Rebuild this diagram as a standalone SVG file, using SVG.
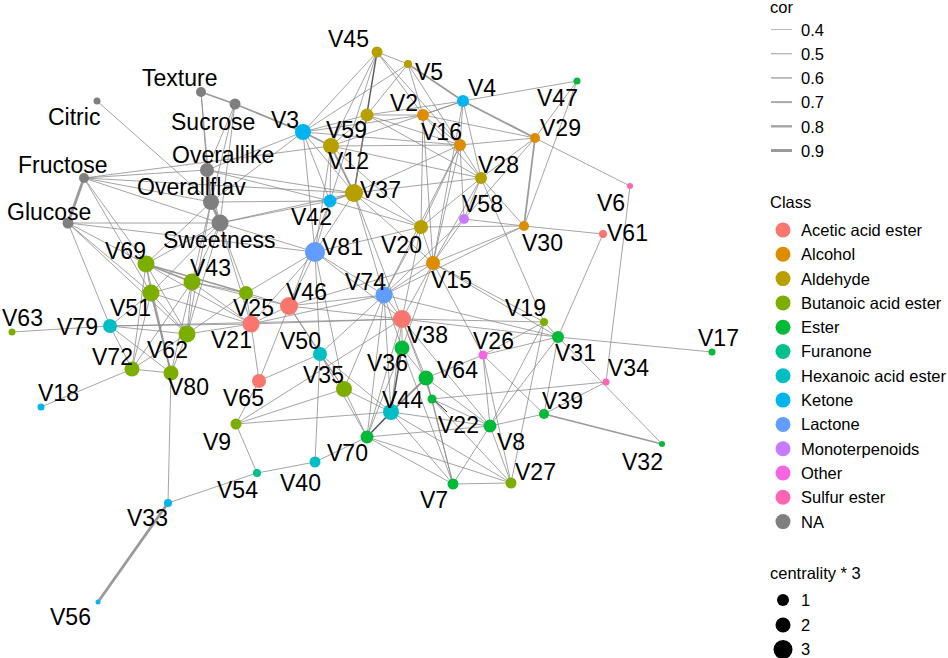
<svg xmlns="http://www.w3.org/2000/svg" width="948" height="658" viewBox="0 0 948 658">
<style>
text{font-family:"Liberation Sans",Arial,sans-serif;fill:#000}
.lb{font-size:23px}
.lg{font-size:16.5px}
#edges line{stroke:#888;stroke-width:0.9;stroke-opacity:0.85}
#edges line.m{stroke-width:1.8}
#edges line.k{stroke-width:2.8}
#edges line.d{stroke:#404040;stroke-width:1.5}
.ac{fill:#F8766D}.al{fill:#DE8C00}.ad{fill:#B79F00}.bu{fill:#7CAE00}.es{fill:#00BA38}.fu{fill:#00C08B}.hx{fill:#00BFC4}.ke{fill:#00B4F0}.la{fill:#619CFF}.mo{fill:#C77CFF}.ot{fill:#F564E3}.su{fill:#FF64B0}.na{fill:#7F7F7F}
</style>
<rect width="948" height="658" fill="#fff"/>
<g id="edges">
<line x1="201" y1="92" x2="235" y2="104" class="m"/>
<line x1="201" y1="92" x2="207" y2="170"/>
<line x1="201" y1="92" x2="211" y2="202"/>
<line x1="235" y1="104" x2="303" y2="132" class="m"/>
<line x1="235" y1="104" x2="207" y2="170"/>
<line x1="235" y1="104" x2="211" y2="202"/>
<line x1="235" y1="104" x2="220" y2="223"/>
<line x1="97" y1="101" x2="211" y2="202"/>
<line x1="84" y1="178" x2="68" y2="223" class="k"/>
<line x1="84" y1="178" x2="207" y2="170"/>
<line x1="84" y1="178" x2="211" y2="202"/>
<line x1="84" y1="178" x2="220" y2="223"/>
<line x1="84" y1="178" x2="146" y2="264"/>
<line x1="84" y1="178" x2="151" y2="293"/>
<line x1="84" y1="178" x2="331" y2="146"/>
<line x1="84" y1="178" x2="354" y2="193"/>
<line x1="68" y1="223" x2="220" y2="223"/>
<line x1="68" y1="223" x2="315" y2="252"/>
<line x1="68" y1="223" x2="110" y2="326"/>
<line x1="68" y1="223" x2="151" y2="293"/>
<line x1="68" y1="223" x2="187" y2="334"/>
<line x1="68" y1="223" x2="146" y2="264"/>
<line x1="207" y1="170" x2="211" y2="202" class="m"/>
<line x1="211" y1="202" x2="220" y2="223" class="k"/>
<line x1="207" y1="170" x2="220" y2="223"/>
<line x1="207" y1="170" x2="303" y2="132"/>
<line x1="207" y1="170" x2="330" y2="201"/>
<line x1="207" y1="170" x2="354" y2="193"/>
<line x1="211" y1="202" x2="303" y2="132"/>
<line x1="211" y1="202" x2="330" y2="201"/>
<line x1="211" y1="202" x2="146" y2="264"/>
<line x1="211" y1="202" x2="192" y2="282"/>
<line x1="211" y1="202" x2="187" y2="334"/>
<line x1="220" y1="223" x2="315" y2="252"/>
<line x1="220" y1="223" x2="330" y2="201"/>
<line x1="220" y1="223" x2="146" y2="264"/>
<line x1="220" y1="223" x2="192" y2="282"/>
<line x1="220" y1="223" x2="246" y2="293"/>
<line x1="220" y1="223" x2="354" y2="193"/>
<line x1="220" y1="223" x2="187" y2="334"/>
<line x1="220" y1="223" x2="151" y2="293"/>
<line x1="220" y1="223" x2="251" y2="324"/>
<line x1="377" y1="52" x2="354" y2="193" class="d"/>
<line x1="377" y1="52" x2="408" y2="64"/>
<line x1="377" y1="52" x2="303" y2="132"/>
<line x1="377" y1="52" x2="330" y2="201"/>
<line x1="377" y1="52" x2="423" y2="115"/>
<line x1="377" y1="52" x2="460" y2="145"/>
<line x1="377" y1="52" x2="331" y2="146"/>
<line x1="408" y1="64" x2="463" y2="101" class="m"/>
<line x1="408" y1="64" x2="367" y2="115"/>
<line x1="408" y1="64" x2="303" y2="132"/>
<line x1="408" y1="64" x2="460" y2="145"/>
<line x1="408" y1="64" x2="423" y2="115"/>
<line x1="463" y1="101" x2="577" y2="81"/>
<line x1="463" y1="101" x2="535" y2="138" class="m"/>
<line x1="463" y1="101" x2="423" y2="115"/>
<line x1="463" y1="101" x2="367" y2="115"/>
<line x1="463" y1="101" x2="460" y2="145"/>
<line x1="463" y1="101" x2="481" y2="178"/>
<line x1="463" y1="101" x2="433" y2="263"/>
<line x1="463" y1="101" x2="331" y2="146"/>
<line x1="577" y1="81" x2="535" y2="138"/>
<line x1="577" y1="81" x2="524" y2="226"/>
<line x1="303" y1="132" x2="367" y2="115"/>
<line x1="303" y1="132" x2="331" y2="146" class="m"/>
<line x1="303" y1="132" x2="423" y2="115"/>
<line x1="303" y1="132" x2="330" y2="201"/>
<line x1="303" y1="132" x2="354" y2="193"/>
<line x1="303" y1="132" x2="315" y2="252"/>
<line x1="303" y1="132" x2="460" y2="145"/>
<line x1="367" y1="115" x2="423" y2="115"/>
<line x1="367" y1="115" x2="460" y2="145"/>
<line x1="367" y1="115" x2="354" y2="193"/>
<line x1="367" y1="115" x2="331" y2="146"/>
<line x1="367" y1="115" x2="481" y2="178"/>
<line x1="331" y1="146" x2="354" y2="193" class="m"/>
<line x1="331" y1="146" x2="460" y2="145"/>
<line x1="331" y1="146" x2="481" y2="178"/>
<line x1="331" y1="146" x2="330" y2="201"/>
<line x1="331" y1="146" x2="421" y2="227"/>
<line x1="331" y1="146" x2="315" y2="252"/>
<line x1="354" y1="193" x2="421" y2="227"/>
<line x1="354" y1="193" x2="433" y2="263"/>
<line x1="354" y1="193" x2="384" y2="295"/>
<line x1="354" y1="193" x2="402" y2="319"/>
<line x1="354" y1="193" x2="330" y2="201" class="m"/>
<line x1="354" y1="193" x2="315" y2="252"/>
<line x1="354" y1="193" x2="481" y2="178"/>
<line x1="354" y1="193" x2="460" y2="145"/>
<line x1="423" y1="115" x2="460" y2="145"/>
<line x1="423" y1="115" x2="481" y2="178"/>
<line x1="423" y1="115" x2="535" y2="138"/>
<line x1="423" y1="115" x2="421" y2="227"/>
<line x1="423" y1="115" x2="433" y2="263"/>
<line x1="460" y1="145" x2="481" y2="178"/>
<line x1="460" y1="145" x2="421" y2="227"/>
<line x1="460" y1="145" x2="433" y2="263"/>
<line x1="460" y1="145" x2="384" y2="295"/>
<line x1="460" y1="145" x2="464" y2="219"/>
<line x1="460" y1="145" x2="535" y2="138"/>
<line x1="481" y1="178" x2="524" y2="226"/>
<line x1="481" y1="178" x2="535" y2="138"/>
<line x1="481" y1="178" x2="464" y2="219"/>
<line x1="481" y1="178" x2="421" y2="227"/>
<line x1="481" y1="178" x2="433" y2="263"/>
<line x1="481" y1="178" x2="544" y2="322"/>
<line x1="535" y1="138" x2="524" y2="226" class="m"/>
<line x1="535" y1="138" x2="630" y2="186"/>
<line x1="535" y1="138" x2="464" y2="219"/>
<line x1="524" y1="226" x2="603" y2="234"/>
<line x1="524" y1="226" x2="433" y2="263"/>
<line x1="524" y1="226" x2="464" y2="219"/>
<line x1="524" y1="226" x2="421" y2="227"/>
<line x1="524" y1="226" x2="384" y2="295"/>
<line x1="464" y1="219" x2="433" y2="263"/>
<line x1="464" y1="219" x2="384" y2="295"/>
<line x1="421" y1="227" x2="433" y2="263"/>
<line x1="421" y1="227" x2="384" y2="295"/>
<line x1="421" y1="227" x2="402" y2="319"/>
<line x1="421" y1="227" x2="315" y2="252"/>
<line x1="421" y1="227" x2="330" y2="201"/>
<line x1="433" y1="263" x2="384" y2="295"/>
<line x1="433" y1="263" x2="402" y2="319"/>
<line x1="433" y1="263" x2="402" y2="348"/>
<line x1="433" y1="263" x2="483" y2="355"/>
<line x1="433" y1="263" x2="289" y2="306"/>
<line x1="433" y1="263" x2="544" y2="322"/>
<line x1="433" y1="263" x2="558" y2="337"/>
<line x1="330" y1="201" x2="315" y2="252"/>
<line x1="330" y1="201" x2="289" y2="306"/>
<line x1="315" y1="252" x2="289" y2="306"/>
<line x1="315" y1="252" x2="246" y2="293"/>
<line x1="315" y1="252" x2="251" y2="324"/>
<line x1="315" y1="252" x2="384" y2="295"/>
<line x1="315" y1="252" x2="402" y2="319"/>
<line x1="315" y1="252" x2="320" y2="354"/>
<line x1="315" y1="252" x2="344" y2="389"/>
<line x1="384" y1="295" x2="402" y2="319"/>
<line x1="384" y1="295" x2="402" y2="348"/>
<line x1="384" y1="295" x2="289" y2="306"/>
<line x1="384" y1="295" x2="391" y2="412"/>
<line x1="384" y1="295" x2="367" y2="437"/>
<line x1="384" y1="295" x2="320" y2="354"/>
<line x1="384" y1="295" x2="344" y2="389"/>
<line x1="384" y1="295" x2="251" y2="324"/>
<line x1="384" y1="295" x2="558" y2="337"/>
<line x1="402" y1="319" x2="402" y2="348"/>
<line x1="402" y1="319" x2="426" y2="378"/>
<line x1="402" y1="319" x2="391" y2="412"/>
<line x1="402" y1="319" x2="432" y2="399"/>
<line x1="402" y1="319" x2="490" y2="426"/>
<line x1="402" y1="319" x2="289" y2="306"/>
<line x1="402" y1="319" x2="251" y2="324"/>
<line x1="402" y1="319" x2="558" y2="337"/>
<line x1="402" y1="319" x2="544" y2="322"/>
<line x1="402" y1="319" x2="367" y2="437"/>
<line x1="402" y1="319" x2="236" y2="424"/>
<line x1="402" y1="348" x2="391" y2="412" class="d"/>
<line x1="402" y1="348" x2="426" y2="378"/>
<line x1="402" y1="348" x2="367" y2="437"/>
<line x1="402" y1="348" x2="453" y2="484"/>
<line x1="426" y1="378" x2="391" y2="412" class="m"/>
<line x1="426" y1="378" x2="432" y2="399"/>
<line x1="426" y1="378" x2="490" y2="426"/>
<line x1="426" y1="378" x2="483" y2="355"/>
<line x1="426" y1="378" x2="367" y2="437"/>
<line x1="426" y1="378" x2="453" y2="484"/>
<line x1="432" y1="399" x2="453" y2="484"/>
<line x1="432" y1="399" x2="490" y2="426"/>
<line x1="432" y1="399" x2="511" y2="483"/>
<line x1="432" y1="399" x2="606" y2="382"/>
<line x1="490" y1="426" x2="453" y2="484"/>
<line x1="490" y1="426" x2="511" y2="483"/>
<line x1="490" y1="426" x2="367" y2="437"/>
<line x1="490" y1="426" x2="544" y2="322"/>
<line x1="490" y1="426" x2="391" y2="412"/>
<line x1="490" y1="426" x2="558" y2="337"/>
<line x1="453" y1="484" x2="511" y2="483"/>
<line x1="453" y1="484" x2="367" y2="437"/>
<line x1="453" y1="484" x2="391" y2="412"/>
<line x1="511" y1="483" x2="367" y2="437"/>
<line x1="511" y1="483" x2="391" y2="412"/>
<line x1="511" y1="483" x2="483" y2="355"/>
<line x1="511" y1="483" x2="544" y2="322"/>
<line x1="367" y1="437" x2="391" y2="412" class="d"/>
<line x1="367" y1="437" x2="315" y2="462"/>
<line x1="367" y1="437" x2="320" y2="354"/>
<line x1="367" y1="437" x2="344" y2="389"/>
<line x1="391" y1="412" x2="344" y2="389"/>
<line x1="391" y1="412" x2="320" y2="354"/>
<line x1="391" y1="412" x2="236" y2="424"/>
<line x1="315" y1="462" x2="257" y2="473"/>
<line x1="315" y1="462" x2="320" y2="354"/>
<line x1="257" y1="473" x2="168" y2="503"/>
<line x1="257" y1="473" x2="236" y2="424"/>
<line x1="168" y1="503" x2="98" y2="602" class="k"/>
<line x1="168" y1="503" x2="171" y2="373"/>
<line x1="236" y1="424" x2="259" y2="381"/>
<line x1="236" y1="424" x2="344" y2="389"/>
<line x1="259" y1="381" x2="251" y2="324"/>
<line x1="259" y1="381" x2="289" y2="306"/>
<line x1="259" y1="381" x2="320" y2="354"/>
<line x1="344" y1="389" x2="320" y2="354"/>
<line x1="344" y1="389" x2="289" y2="306"/>
<line x1="320" y1="354" x2="289" y2="306"/>
<line x1="289" y1="306" x2="251" y2="324"/>
<line x1="289" y1="306" x2="246" y2="293"/>
<line x1="289" y1="306" x2="192" y2="282"/>
<line x1="251" y1="324" x2="246" y2="293"/>
<line x1="251" y1="324" x2="187" y2="334"/>
<line x1="251" y1="324" x2="192" y2="282"/>
<line x1="251" y1="324" x2="146" y2="264"/>
<line x1="251" y1="324" x2="151" y2="293"/>
<line x1="246" y1="293" x2="192" y2="282"/>
<line x1="246" y1="293" x2="146" y2="264" class="m"/>
<line x1="246" y1="293" x2="187" y2="334"/>
<line x1="146" y1="264" x2="151" y2="293"/>
<line x1="146" y1="264" x2="192" y2="282" class="m"/>
<line x1="146" y1="264" x2="187" y2="334"/>
<line x1="146" y1="264" x2="171" y2="373"/>
<line x1="146" y1="264" x2="132" y2="369"/>
<line x1="151" y1="293" x2="192" y2="282"/>
<line x1="151" y1="293" x2="187" y2="334"/>
<line x1="151" y1="293" x2="171" y2="373" class="m"/>
<line x1="151" y1="293" x2="132" y2="369"/>
<line x1="151" y1="293" x2="110" y2="326"/>
<line x1="192" y1="282" x2="187" y2="334"/>
<line x1="192" y1="282" x2="171" y2="373"/>
<line x1="192" y1="282" x2="132" y2="369"/>
<line x1="187" y1="334" x2="171" y2="373"/>
<line x1="187" y1="334" x2="132" y2="369"/>
<line x1="187" y1="334" x2="110" y2="326"/>
<line x1="132" y1="369" x2="41" y2="407"/>
<line x1="132" y1="369" x2="171" y2="373"/>
<line x1="132" y1="369" x2="110" y2="326"/>
<line x1="110" y1="326" x2="12" y2="332"/>
<line x1="110" y1="326" x2="171" y2="373"/>
<line x1="110" y1="326" x2="251" y2="324"/>
<line x1="110" y1="326" x2="402" y2="319"/>
<line x1="544" y1="322" x2="558" y2="337"/>
<line x1="544" y1="322" x2="483" y2="355"/>
<line x1="558" y1="337" x2="712" y2="352"/>
<line x1="558" y1="337" x2="662" y2="444"/>
<line x1="558" y1="337" x2="603" y2="234"/>
<line x1="558" y1="337" x2="544" y2="414"/>
<line x1="558" y1="337" x2="483" y2="355"/>
<line x1="483" y1="355" x2="490" y2="426"/>
<line x1="483" y1="355" x2="544" y2="414"/>
<line x1="544" y1="414" x2="606" y2="382"/>
<line x1="544" y1="414" x2="662" y2="444" class="m"/>
<line x1="544" y1="414" x2="490" y2="426"/>
<line x1="606" y1="382" x2="630" y2="186"/>
<line x1="433" y1="399" x2="447" y2="412" style="stroke:#000;stroke-width:0.9;stroke-opacity:1"/>
</g>
<g id="nodes">
<g id="n-Texture"><circle cx="201" cy="92" r="5" class="na"/><text class="lb" x="142" y="86">Texture</text></g>
<g id="n-Citric"><circle cx="97" cy="101" r="3.5" class="na"/><text class="lb" x="48" y="125">Citric</text></g>
<g id="n-Sucrose"><circle cx="235" cy="104" r="5.5" class="na"/><text class="lb" x="171" y="130">Sucrose</text></g>
<g id="n-Overallike"><circle cx="207" cy="170" r="7" class="na"/><text class="lb" x="172" y="163">Overallike</text></g>
<g id="n-Fructose"><circle cx="84" cy="178" r="5" class="na"/><text class="lb" x="18" y="173">Fructose</text></g>
<g id="n-Overallflav"><circle cx="211" cy="202" r="8" class="na"/><text class="lb" x="137" y="195">Overallflav</text></g>
<g id="n-Glucose"><circle cx="68" cy="223" r="5.5" class="na"/><text class="lb" x="7" y="220">Glucose</text></g>
<g id="n-Sweetness"><circle cx="220" cy="223" r="8.5" class="na"/><text class="lb" x="163" y="248">Sweetness</text></g>
<g id="n-V45"><circle cx="377" cy="52" r="5.5" class="ad"/><text class="lb" x="328" y="47">V45</text></g>
<g id="n-V5"><circle cx="408" cy="64" r="4" class="ad"/><text class="lb" x="415" y="80">V5</text></g>
<g id="n-V4"><circle cx="463" cy="101" r="6" class="ke"/><text class="lb" x="468" y="96">V4</text></g>
<g id="n-V47"><circle cx="577" cy="81" r="3.5" class="es"/><text class="lb" x="537" y="106">V47</text></g>
<g id="n-V2"><circle cx="423" cy="115" r="6" class="al"/><text class="lb" x="390" y="111">V2</text></g>
<g id="n-V3"><circle cx="303" cy="132" r="8" class="ke"/><text class="lb" x="271" y="128">V3</text></g>
<g id="n-V59"><circle cx="367" cy="115" r="6.5" class="ad"/><text class="lb" x="326" y="138">V59</text></g>
<g id="n-V12"><circle cx="331" cy="146" r="8" class="ad"/><text class="lb" x="328" y="169">V12</text></g>
<g id="n-V16"><circle cx="460" cy="145" r="6" class="al"/><text class="lb" x="421" y="140">V16</text></g>
<g id="n-V29"><circle cx="535" cy="138" r="5" class="al"/><text class="lb" x="540" y="136">V29</text></g>
<g id="n-V28"><circle cx="481" cy="178" r="6" class="ad"/><text class="lb" x="478" y="173">V28</text></g>
<g id="n-V6"><circle cx="630" cy="186" r="3" class="su"/><text class="lb" x="597" y="211">V6</text></g>
<g id="n-V37"><circle cx="354" cy="193" r="9" class="ad"/><text class="lb" x="360" y="198">V37</text></g>
<g id="n-V42"><circle cx="330" cy="201" r="6.5" class="ke"/><text class="lb" x="291" y="225">V42</text></g>
<g id="n-V58"><circle cx="464" cy="219" r="5" class="mo"/><text class="lb" x="462" y="212">V58</text></g>
<g id="n-V30"><circle cx="524" cy="226" r="5" class="al"/><text class="lb" x="522" y="251">V30</text></g>
<g id="n-V61"><circle cx="603" cy="234" r="4" class="ac"/><text class="lb" x="607" y="241">V61</text></g>
<g id="n-V20"><circle cx="421" cy="227" r="7" class="ad"/><text class="lb" x="381" y="253">V20</text></g>
<g id="n-V81"><circle cx="315" cy="252" r="10" class="la"/><text class="lb" x="322" y="255">V81</text></g>
<g id="n-V15"><circle cx="433" cy="263" r="7" class="al"/><text class="lb" x="431" y="288">V15</text></g>
<g id="n-V74"><circle cx="384" cy="295" r="8.5" class="la"/><text class="lb" x="345" y="290">V74</text></g>
<g id="n-V69"><circle cx="146" cy="264" r="8.5" class="bu"/><text class="lb" x="105" y="259">V69</text></g>
<g id="n-V43"><circle cx="192" cy="282" r="8.5" class="bu"/><text class="lb" x="190" y="276">V43</text></g>
<g id="n-V51"><circle cx="151" cy="293" r="8.5" class="bu"/><text class="lb" x="110" y="316">V51</text></g>
<g id="n-V25"><circle cx="246" cy="293" r="7" class="bu"/><text class="lb" x="233" y="316">V25</text></g>
<g id="n-V46"><circle cx="289" cy="306" r="9" class="ac"/><text class="lb" x="286" y="300">V46</text></g>
<g id="n-V38"><circle cx="402" cy="319" r="9" class="ac"/><text class="lb" x="407" y="343">V38</text></g>
<g id="n-V19"><circle cx="544" cy="322" r="4" class="bu"/><text class="lb" x="505" y="316">V19</text></g>
<g id="n-V79"><circle cx="110" cy="326" r="7" class="hx"/><text class="lb" x="57" y="335">V79</text></g>
<g id="n-V63"><circle cx="12" cy="332" r="3.5" class="bu"/><text class="lb" x="2" y="326">V63</text></g>
<g id="n-V21"><circle cx="251" cy="324" r="8.5" class="ac"/><text class="lb" x="211" y="348">V21</text></g>
<g id="n-V62"><circle cx="187" cy="334" r="8.5" class="bu"/><text class="lb" x="147" y="358">V62</text></g>
<g id="n-V31"><circle cx="558" cy="337" r="6" class="es"/><text class="lb" x="555" y="361">V31</text></g>
<g id="n-V36"><circle cx="402" cy="348" r="7.5" class="es"/><text class="lb" x="367" y="371">V36</text></g>
<g id="n-V17"><circle cx="712" cy="352" r="3.5" class="es"/><text class="lb" x="698" y="346">V17</text></g>
<g id="n-V50"><circle cx="320" cy="354" r="7" class="hx"/><text class="lb" x="280" y="349">V50</text></g>
<g id="n-V26"><circle cx="483" cy="355" r="4.5" class="ot"/><text class="lb" x="473" y="349">V26</text></g>
<g id="n-V72"><circle cx="132" cy="369" r="7.5" class="bu"/><text class="lb" x="92" y="365">V72</text></g>
<g id="n-V80"><circle cx="171" cy="373" r="7.5" class="bu"/><text class="lb" x="168" y="395">V80</text></g>
<g id="n-V64"><circle cx="426" cy="378" r="7.5" class="es"/><text class="lb" x="437" y="378">V64</text></g>
<g id="n-V65"><circle cx="259" cy="381" r="7" class="ac"/><text class="lb" x="223" y="406">V65</text></g>
<g id="n-V34"><circle cx="606" cy="382" r="3.5" class="su"/><text class="lb" x="608" y="376">V34</text></g>
<g id="n-V35"><circle cx="344" cy="389" r="8" class="bu"/><text class="lb" x="303" y="383">V35</text></g>
<g id="n-V22"><circle cx="432" cy="399" r="4.5" class="es"/><text class="lb" x="438" y="433">V22</text></g>
<g id="n-V18"><circle cx="41" cy="407" r="3.5" class="ke"/><text class="lb" x="38" y="401">V18</text></g>
<g id="n-V44"><circle cx="391" cy="412" r="8" class="hx"/><text class="lb" x="382" y="408">V44</text></g>
<g id="n-V39"><circle cx="544" cy="414" r="5" class="es"/><text class="lb" x="542" y="409">V39</text></g>
<g id="n-V9"><circle cx="236" cy="424" r="5.5" class="bu"/><text class="lb" x="203" y="450">V9</text></g>
<g id="n-V8"><circle cx="490" cy="426" r="6.5" class="es"/><text class="lb" x="497" y="450">V8</text></g>
<g id="n-V70"><circle cx="367" cy="437" r="6.5" class="es"/><text class="lb" x="327" y="461">V70</text></g>
<g id="n-V32"><circle cx="662" cy="444" r="3" class="es"/><text class="lb" x="622" y="470">V32</text></g>
<g id="n-V40"><circle cx="315" cy="462" r="5.5" class="hx"/><text class="lb" x="280" y="491">V40</text></g>
<g id="n-V54"><circle cx="257" cy="473" r="4" class="fu"/><text class="lb" x="217" y="498">V54</text></g>
<g id="n-V7"><circle cx="453" cy="484" r="5.5" class="es"/><text class="lb" x="420" y="508">V7</text></g>
<g id="n-V27"><circle cx="511" cy="483" r="5.5" class="bu"/><text class="lb" x="515" y="480">V27</text></g>
<g id="n-V33"><circle cx="168" cy="503" r="4" class="ke"/><text class="lb" x="127" y="526">V33</text></g>
<g id="n-V56"><circle cx="98" cy="602" r="2.5" class="ke"/><text class="lb" x="50" y="625">V56</text></g>
</g>
<g id="legend">
<text class="lg" x="770" y="13">cor</text>
<g stroke="#9a9a9a">
<line x1="771" y1="29.5" x2="792" y2="29.5" stroke-width="1" stroke-opacity="0.7"/>
<line x1="771" y1="53.7" x2="792" y2="53.7" stroke-width="1.3" stroke-opacity="0.75"/>
<line x1="771" y1="77.9" x2="792" y2="77.9" stroke-width="1.6" stroke-opacity="0.8"/>
<line x1="771" y1="102.1" x2="792" y2="102.1" stroke-width="2" stroke-opacity="0.85"/>
<line x1="771" y1="126.3" x2="792" y2="126.3" stroke-width="2.4" stroke-opacity="0.9"/>
<line x1="771" y1="150.5" x2="792" y2="150.5" stroke-width="3"/>
</g>
<text class="lg" x="801" y="36">0.4</text>
<text class="lg" x="801" y="60">0.5</text>
<text class="lg" x="801" y="84">0.6</text>
<text class="lg" x="801" y="108">0.7</text>
<text class="lg" x="801" y="133">0.8</text>
<text class="lg" x="801" y="157">0.9</text>
<text class="lg" x="770" y="208">Class</text>
<circle cx="783" cy="230" r="7.5" class="ac"/><text class="lg" x="801" y="236">Acetic acid ester</text>
<circle cx="783" cy="254.3" r="7.5" class="al"/><text class="lg" x="801" y="260">Alcohol</text>
<circle cx="783" cy="278.6" r="7.5" class="ad"/><text class="lg" x="801" y="285">Aldehyde</text>
<circle cx="783" cy="302.9" r="7.5" class="bu"/><text class="lg" x="801" y="309">Butanoic acid ester</text>
<circle cx="783" cy="327.2" r="7.5" class="es"/><text class="lg" x="801" y="333">Ester</text>
<circle cx="783" cy="351.5" r="7.5" class="fu"/><text class="lg" x="801" y="357">Furanone</text>
<circle cx="783" cy="375.8" r="7.5" class="hx"/><text class="lg" x="801" y="382">Hexanoic acid ester</text>
<circle cx="783" cy="400.1" r="7.5" class="ke"/><text class="lg" x="801" y="406">Ketone</text>
<circle cx="783" cy="424.4" r="7.5" class="la"/><text class="lg" x="801" y="430">Lactone</text>
<circle cx="783" cy="448.7" r="7.5" class="mo"/><text class="lg" x="801" y="455">Monoterpenoids</text>
<circle cx="783" cy="473" r="7.5" class="ot"/><text class="lg" x="801" y="479">Other</text>
<circle cx="783" cy="497.3" r="7.5" class="su"/><text class="lg" x="801" y="503">Sulfur ester</text>
<circle cx="783" cy="521.6" r="7.5" class="na"/><text class="lg" x="801" y="528">NA</text>
<text class="lg" x="770" y="579">centrality * 3</text>
<circle cx="783" cy="600" r="6"/><text class="lg" x="801" y="606">1</text>
<circle cx="783" cy="625" r="7.5"/><text class="lg" x="801" y="631">2</text>
<circle cx="783" cy="649.5" r="9.5"/><text class="lg" x="801" y="655">3</text>
</g>
</svg>
